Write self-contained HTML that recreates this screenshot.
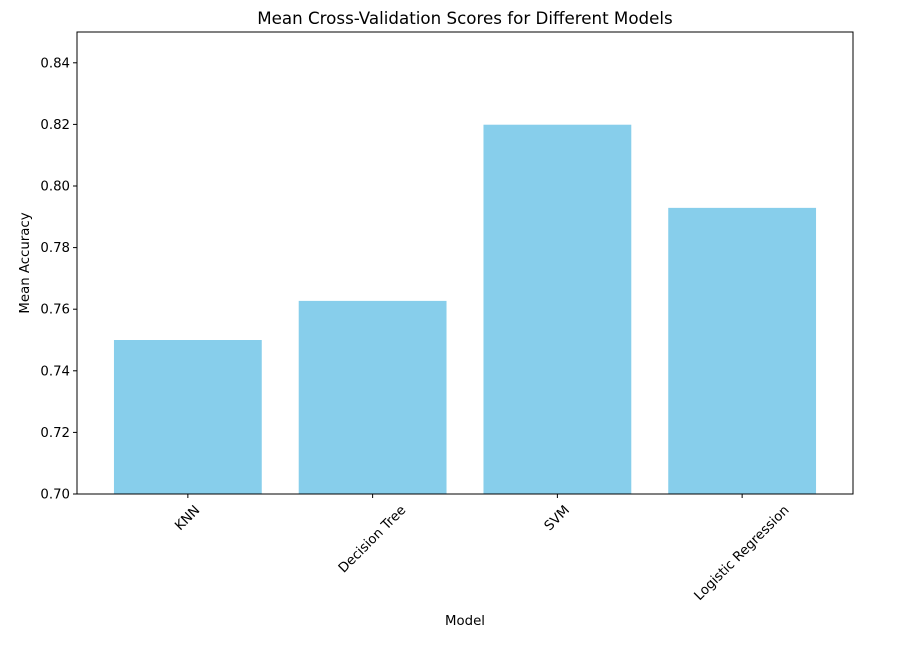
<!DOCTYPE html>
<html><head><meta charset="utf-8"><style>
body{margin:0;background:#fff;font-family:"Liberation Sans","DejaVu Sans",sans-serif;}
svg text{font-family:"DejaVu Sans","Liberation Sans",sans-serif;}
</style></head><body>
<svg id="chart" width="910" height="641" xmlns="http://www.w3.org/2000/svg"></svg>
<script>
const categories = ["KNN","Decision Tree","SVM","Logistic Regression"];
const scores = [0.75, 0.7627, 0.8199, 0.7929];
const yTicks = [0.70,0.72,0.74,0.76,0.78,0.80,0.82,0.84];

const L=77,R=853,T=32,B=494,yMin=0.70,yMax=0.85,xMin=-0.6,xMax=3.6;
const ns="http://www.w3.org/2000/svg";
const svg=document.getElementById('chart');
function y(v){return B-(v-yMin)/(yMax-yMin)*(B-T);}
function x(i){return L+(i-xMin)/(xMax-xMin)*(R-L);}
function el(tag,attrs,text){const e=document.createElementNS(ns,tag);for(const k in attrs)e.setAttribute(k,attrs[k]);if(text!==undefined)e.textContent=text;svg.appendChild(e);return e;}
const bw=0.8*(R-L)/(xMax-xMin);
scores.forEach((v,i)=>{
  const r=el('rect',{x:x(i)-bw/2,y:y(v),width:bw,height:B-y(v),fill:'#87ceeb'});
  
  
});
const frame=el('rect',{x:L,y:T,width:R-L,height:B-T,fill:'none',stroke:'#000','stroke-width':1});


yTicks.forEach(t=>{
  el('line',{x1:L-4,x2:L,y1:y(t),y2:y(t),stroke:'#000'});
  const tx=el('text',{x:L-7,y:y(t)+4.5,'font-size':13.3,'text-anchor':'end'},t.toFixed(2));
  
  
});
categories.forEach((c,i)=>{
  el('line',{x1:x(i),x2:x(i),y1:B,y2:B+4,stroke:'#000'});
  const tx=el('text',{x:0,y:0,'font-size':13.3,'text-anchor':'middle','dominant-baseline':'central'},c);
  
  
  const w=tx.getComputedTextLength(), h=15;
  const cy=B+9+(w+h)*0.7071/2;
  tx.setAttribute('transform',`translate(${x(i)} ${cy}) rotate(-45)`);
});
const t1=el('text',{x:(L+R)/2,y:24,'font-size':16.7,'text-anchor':'middle'},'Mean Cross-Validation Scores for Different Models');


const t2=el('text',{x:(L+R)/2,y:625,'font-size':13.3,'text-anchor':'middle'},'Model');


const t3=el('text',{x:29,y:(T+B)/2,'font-size':13.3,'text-anchor':'middle',transform:`rotate(-90 29 ${(T+B)/2})`},'Mean Accuracy');


</script>
</body></html>
